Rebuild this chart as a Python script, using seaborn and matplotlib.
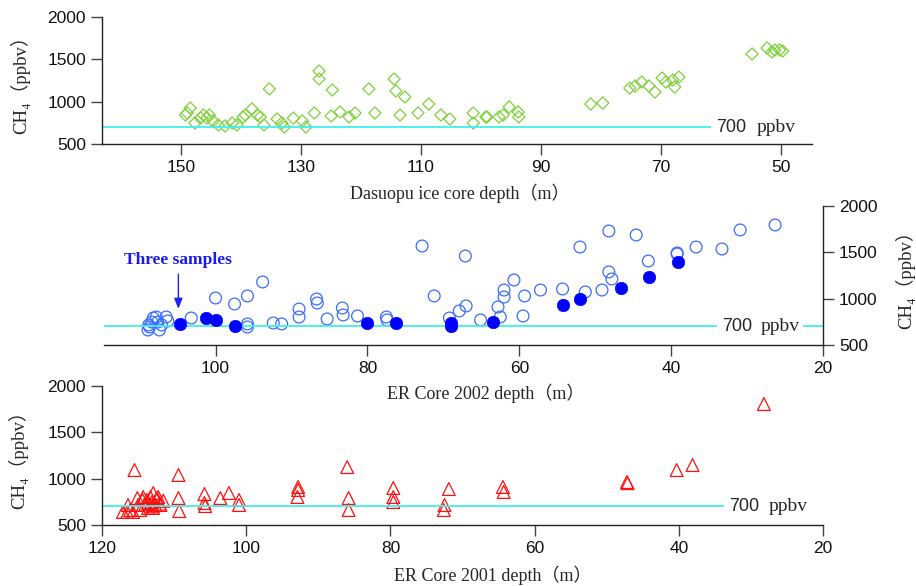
import seaborn as sns
import matplotlib.pyplot as plt
import pandas as pd

sns.set_style("ticks")
plt.rcParams["font.family"] = ["Liberation Serif", "DejaVu Serif", "Noto Sans CJK SC"]

# Dasuopu ice core (green diamonds)
dasuopu_depth = [149.3, 149.0, 148.5, 147.7, 146.8, 146.3, 145.7, 145.3, 144.7, 143.8,
                 142.7, 141.5, 140.7, 139.7, 139.3, 138.2, 137.3, 136.8, 136.2, 135.3,
                 134.0, 133.2, 132.8, 131.3, 129.8, 129.2, 127.8, 127.0, 127.0, 125.0,
                 124.8, 123.5, 122.0, 121.0, 118.7, 117.7, 114.5, 114.2, 113.5, 112.7,
                 110.5, 108.7, 106.7, 105.2, 101.3, 101.3, 99.2, 99.0, 97.0, 96.3,
                 95.3, 93.8, 93.7, 81.7, 79.7, 75.2, 74.3, 73.2, 72.0, 71.0,
                 69.8, 69.2, 68.0, 67.7, 67.0, 54.8, 52.3, 51.5, 51.0, 50.2, 49.7]
dasuopu_ch4 = [842, 866, 925, 748, 807, 842, 807, 842, 772, 724,
               713, 748, 724, 819, 842, 913, 842, 819, 724, 1150,
               795, 748, 700, 807, 772, 700, 866, 1362, 1268, 831,
               1138, 878, 819, 866, 1150, 866, 1268, 1126, 842, 1055,
               866, 972, 842, 795, 866, 748, 819, 819, 819, 842,
               937, 878, 819, 972, 984, 1161, 1185, 1232, 1185, 1114,
               1280, 1232, 1256, 1173, 1291, 1563, 1634, 1587, 1610, 1610, 1598]

# ER core 2002 (open blue circles)
er2002_depth = [108.9, 108.8, 108.7, 108.4, 108.2, 107.8, 107.6, 107.4, 107.1, 106.5,
                106.3, 103.2, 100.0, 97.5, 95.8, 95.8, 95.8, 93.8, 92.4, 91.3,
                89.0, 89.0, 86.7, 86.6, 85.3, 83.3, 83.2, 81.3, 77.5, 77.4,
                72.8, 71.2, 69.2, 67.9, 67.1, 67.0, 65.1, 62.8, 62.5, 62.0,
                62.0, 60.7, 59.5, 59.3, 57.2, 54.3, 52.0, 51.3, 49.1, 48.2,
                48.2, 47.8, 44.6, 43.0, 39.2, 39.2, 36.7, 33.3, 30.9, 26.3]
er2002_ch4 = [662, 716, 694, 748, 791, 802, 748, 662, 716, 802,
              759, 791, 1007, 942, 1029, 727, 694, 1180, 737, 727,
              888, 802, 996, 953, 781, 899, 824, 813, 802, 770,
              1568, 1029, 791, 867, 1460, 921, 770, 910, 802, 1018,
              1093, 1201, 813, 1029, 1093, 1104, 1557, 1072, 1093, 1730,
              1288, 1212, 1687, 1406, 1482, 1493, 1557, 1536, 1741, 1795]

# ER core 2002, three-sample means (filled circles)
er2002_sel_depth = [104.7, 101.2, 99.9, 97.4, 80.0, 76.3, 69.0, 69.0, 63.4, 54.3, 52.0, 46.6, 42.9, 39.1]
er2002_sel_ch4 = [727, 791, 770, 705, 737, 737, 737, 705, 748, 932, 996, 1115, 1234, 1395]

# ER core 2001 (red triangles)
er2001_depth = [117.1, 116.5, 116.4, 116.1, 115.7, 115.5, 115.1, 115.0, 114.7, 114.4,
                114.3, 114.0, 113.8, 113.6, 113.6, 113.3, 113.1, 113.0, 112.9, 112.9,
                112.6, 112.4, 112.2, 112.0, 111.9, 111.5, 109.4, 109.4, 109.3, 105.8,
                105.8, 105.7, 103.6, 102.4, 101.0, 101.0, 92.9, 92.8, 92.8, 86.0,
                85.8, 85.8, 79.6, 79.6, 79.6, 72.6, 72.5, 71.9, 64.4, 64.3,
                47.2, 47.1, 40.3, 38.1, 28.2]
er2001_ch4 = [640, 640, 715, 661, 640, 1091, 790, 715, 661, 769,
              801, 720, 769, 737, 683, 801, 747, 700, 844, 683,
              715, 790, 801, 730, 715, 760, 1038, 790, 650, 833,
              737, 704, 790, 844, 769, 715, 801, 909, 876, 1123,
              790, 661, 898, 801, 747, 661, 715, 887, 909, 855,
              962, 950, 1091, 1145, 1801]

CYAN = "#3ff0f0"
SANS = "Liberation Sans"
YLABEL = "CH₄（ppbv）"


def style_axis(ax, xlim, xticks, side="left"):
    ax.patch.set_visible(False)
    ax.set_xlim(*xlim)
    ax.set_ylim(500, 2000)
    ax.set_xticks(xticks)
    ax.set_yticks([500, 1000, 1500, 2000])
    for s in ["top", "right", "left"]:
        ax.spines[s].set_visible(False)
    ax.spines["bottom"].set_visible(True)
    ax.spines[side].set_visible(True)
    for s in ["bottom", side]:
        ax.spines[s].set_linewidth(1.0)
        ax.spines[s].set_color("#222222")
    if side == "right":
        ax.yaxis.tick_right()
        ax.yaxis.set_label_position("right")
    ax.tick_params(direction="out", length=8, width=1.0, color="#444444",
                   labelsize=12.5, labelfontfamily=SANS, labelcolor="#111111")


def ppbv_line(ax, x_left, x_end, x700, xppbv, x_right=None):
    ax.hlines(700, x_left, x_end, color=CYAN, lw=1.3, zorder=1)
    if x_right is not None:
        ax.hlines(700, x_right, ax.get_xlim()[1], color=CYAN, lw=1.3, zorder=1)
    ax.text(x700, 700, "700", family=SANS, fontsize=13, va="center", ha="left")
    ax.text(xppbv, 700, "ppbv", fontsize=14, va="center", ha="left")


fig = plt.figure(figsize=(9.16, 5.86), dpi=100)

# top panel: Dasuopu
ax1 = fig.add_axes([0.1114, 0.7543, 0.7751, 0.2167])
df1 = pd.DataFrame({"depth": dasuopu_depth, "ch4": dasuopu_ch4})
sns.scatterplot(data=df1, x="depth", y="ch4", ax=ax1, marker="D", s=38,
                facecolor="none", edgecolor="#7fd13b", linewidth=0.9)
style_axis(ax1, (163.2, 44.8), [150, 130, 110, 90, 70, 50])
ppbv_line(ax1, 163.2, 61.7, 60.8, 54.0)
ax1.set_xlabel("Dasuopu ice core depth（m）", fontsize=13)
ax1.set_ylabel(YLABEL, fontsize=13.5)
ax1.xaxis.set_label_coords(0.504, -0.31)
ax1.yaxis.set_label_coords(-0.101, 0.5)

# middle panel: ER core 2002
ax2 = fig.add_axes([0.1135, 0.4113, 0.7849, 0.2372])
df2 = pd.DataFrame({"depth": er2002_depth, "ch4": er2002_ch4})
df2s = pd.DataFrame({"depth": er2002_sel_depth, "ch4": er2002_sel_ch4})
sns.scatterplot(data=df2, x="depth", y="ch4", ax=ax2, marker="o", s=72,
                facecolor="none", edgecolor="#3a6cff", linewidth=0.9)
sns.scatterplot(data=df2s, x="depth", y="ch4", ax=ax2, marker="o", s=80,
                color="#0000ff", edgecolor="#0000ff", linewidth=0.5, zorder=3)
style_axis(ax2, (114.7, 20), [100, 80, 60, 40, 20], side="right")
ppbv_line(ax2, 114.7, 33.9, 33.3, 28.2, x_right=22.6)
ax2.annotate("Three samples", xy=(104.9, 890), xytext=(104.9, 1330),
             ha="center", va="bottom", fontsize=12.5, fontweight="bold", color="#1a1aee",
             arrowprops=dict(arrowstyle="-|>,head_length=0.5,head_width=0.2",
                             color="#2020ee", lw=1.0, shrinkA=2, shrinkB=0))
ax2.set_xlabel("ER Core 2002 depth（m）", fontsize=13)
ax2.set_ylabel(YLABEL, fontsize=13.5)
ax2.xaxis.set_label_coords(0.531, -0.28)
ax2.yaxis.set_label_coords(1.10, 0.5)

# bottom panel: ER core 2001
ax3 = fig.add_axes([0.1114, 0.1041, 0.7871, 0.2380])
df3 = pd.DataFrame({"depth": er2001_depth, "ch4": er2001_ch4})
sns.scatterplot(data=df3, x="depth", y="ch4", ax=ax3, marker="^", s=85,
                facecolor="none", edgecolor="#ff1010", linewidth=0.9)
style_axis(ax3, (120, 20), [120, 100, 80, 60, 40, 20])
ppbv_line(ax3, 120, 33.75, 33.06, 27.6)
ax3.set_xlabel("ER Core 2001 depth（m）", fontsize=13)
ax3.set_ylabel(YLABEL, fontsize=13.5)
ax3.xaxis.set_label_coords(0.542, -0.29)
ax3.yaxis.set_label_coords(-0.103, 0.5)

plt.savefig("out.png", dpi=100)
plt.close()
